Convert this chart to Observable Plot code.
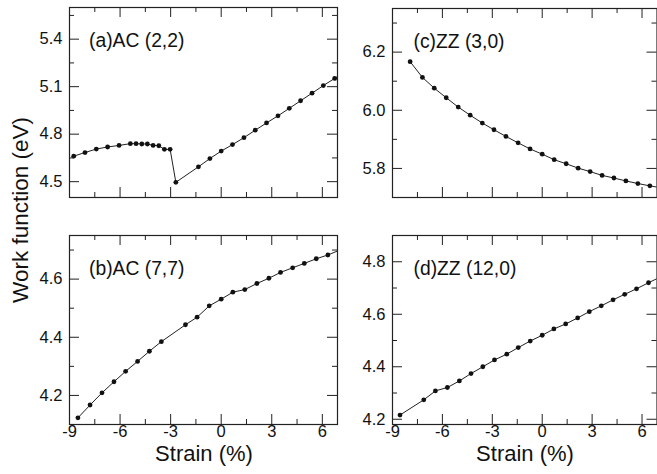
<!DOCTYPE html>
<html><head><meta charset="utf-8">
<script src="https://cdn.jsdelivr.net/npm/d3@7"></script>
<script src="https://cdn.jsdelivr.net/npm/@observablehq/plot@0.6"></script>
<style>
html,body{margin:0;padding:0;background:#fff;overflow:hidden}
#wrap{position:relative;width:657px;height:474px;font-family:"Liberation Sans",Arial,sans-serif;color:#111}
.panel{position:absolute}
.title{position:absolute;font-size:22px;line-height:12px;white-space:nowrap;transform:translate(-50%,-50%)}
.ytitle{font-size:22.5px;transform:translate(-50%,-50%) rotate(-90deg)}
</style></head><body><div id="wrap"></div>
<script>
// ---- data ----
const xMajor = [-9, -6, -3, 0, 3, 6];
const xMinor = [-7.5, -4.5, -1.5, 1.5, 4.5];
const xDomain = [-9, 6.9];
const panelLabels = ["(a)AC (2,2)", "(b)AC (7,7)", "(c)ZZ (3,0)", "(d)ZZ (12,0)"];
const xTitle = "Strain (%)";
const yTitle = "Work function (eV)";

const strainA = [-8.75,-8.08,-7.41,-6.74,-6.06,-5.39,-5.05,-4.71,-4.38,-4.04,-3.70,-3.37,-3.03,-2.69,-1.35,-0.67,0,0.67,1.35,2.02,2.69,3.37,4.04,4.71,5.39,6.06,6.73,7.40];
const wfA = [4.661,4.684,4.706,4.719,4.729,4.740,4.740,4.738,4.738,4.729,4.727,4.704,4.704,4.496,4.594,4.646,4.693,4.734,4.778,4.825,4.871,4.916,4.963,5.011,5.059,5.107,5.152,5.200];
const yDomainA = [4.4, 5.6];
const yMajorA = [4.5, 4.8, 5.1, 5.4];
const yMinorA = [4.65, 4.95, 5.25, 5.55];

const strainB = [-8.50,-7.78,-7.07,-6.36,-5.67,-4.96,-4.26,-3.55,-2.12,-1.43,-0.71,0,0.69,1.40,2.12,2.83,3.52,4.24,4.93,5.64,6.33,7.04];
const wfB = [4.123,4.167,4.209,4.247,4.283,4.317,4.352,4.385,4.443,4.469,4.508,4.531,4.555,4.564,4.585,4.603,4.623,4.639,4.654,4.670,4.683,4.700];
const yDomainB = [4.1, 4.75];
const yMajorB = [4.2, 4.4, 4.6];
const yMinorB = [4.3, 4.5, 4.7];

const strainC = [-7.94,-7.20,-6.49,-5.77,-5.05,-4.33,-3.60,-2.90,-2.18,-1.45,-0.73,0,0.72,1.44,2.16,2.88,3.60,4.31,5.03,5.75,6.47,7.19];
const wfC = [6.167,6.113,6.076,6.043,6.011,5.983,5.956,5.933,5.910,5.888,5.867,5.849,5.830,5.816,5.801,5.789,5.776,5.767,5.757,5.748,5.740,5.733];
const yDomainC = [5.7, 6.35];
const yMajorC = [5.8, 6.0, 6.2];
const yMinorC = [5.9, 6.1, 6.3];

const strainD = [-8.55,-7.12,-6.42,-5.70,-4.98,-4.28,-3.57,-2.87,-2.13,-1.44,-0.72,0,0.70,1.41,2.13,2.83,3.55,4.26,4.96,5.67,6.39,7.10];
const wfD = [4.216,4.274,4.308,4.321,4.346,4.374,4.400,4.426,4.448,4.473,4.498,4.520,4.544,4.563,4.586,4.610,4.632,4.655,4.676,4.697,4.720,4.742];
const yDomainD = [4.18, 4.9];
const yMajorD = [4.2, 4.4, 4.6, 4.8];
const yMinorD = [4.3, 4.5, 4.7];

// ---- drawing ----
const FONT = '"Liberation Sans", Arial, sans-serif';
const wrap = document.getElementById("wrap");
function panel(o) {
  const data = o.xs.map((x, i) => ({x, y: o.ys[i]}));
  const iw = o.width - o.ml - o.mr, ih = o.height - o.mt - o.mb;
  const stroke = "#222", major = 10, minor = 5;
  const svg = Plot.plot({
    width: o.width, height: o.height,
    marginLeft: o.ml, marginRight: o.mr, marginTop: o.mt, marginBottom: o.mb,
    x: {domain: xDomain, axis: null},
    y: {domain: o.yDomain, axis: null},
    style: {fontFamily: FONT, fontSize: "16.5px", color: "#111", background: "transparent", overflow: "visible"},
    marks: [
      Plot.line(data, {x: "x", y: "y", stroke: "#222", strokeWidth: 1, clip: true}),
      Plot.dot(data, {x: "x", y: "y", r: 2.4, fill: "#111", stroke: "none", clip: true}),
      Plot.tickX(xMajor, {x: d => d, insetTop: ih - major, stroke}),
      Plot.tickX(xMajor, {x: d => d, insetBottom: ih - major, stroke}),
      Plot.tickX(xMinor, {x: d => d, insetTop: ih - minor, stroke}),
      Plot.tickX(xMinor, {x: d => d, insetBottom: ih - minor, stroke}),
      Plot.tickY(o.yMajor, {y: d => d, insetRight: iw - major, stroke}),
      Plot.tickY(o.yMajor, {y: d => d, insetLeft: iw - major, stroke}),
      Plot.tickY(o.yMinor, {y: d => d, insetRight: iw - minor, stroke}),
      Plot.tickY(o.yMinor, {y: d => d, insetLeft: iw - minor, stroke}),
      Plot.axisY(o.yMajor, {tickSize: 0, tickPadding: 7, tickFormat: d3.format(".1f"), label: null, fontSize: 16.5}),
      o.showX ? Plot.axisX(xMajor, {tickSize: 0, tickPadding: 1, tickFormat: d => String(d), label: null, fontSize: 16.5}) : null,
      Plot.frame({stroke: "#222", strokeWidth: 1.2}),
      Plot.text([o.label], {text: d => d, frameAnchor: "top-left", dx: o.ldx, dy: 25.5, textAnchor: "start", lineAnchor: "top", fontSize: 19.3, fill: "#111"})
    ]
  });
  const div = document.createElement("div");
  div.className = "panel";
  div.style.left = o.left + "px";
  div.style.top = o.top + "px";
  div.appendChild(svg);
  wrap.appendChild(div);
}

panel({xs: strainA, ys: wfA, label: panelLabels[0], yDomain: yDomainA, yMajor: yMajorA, yMinor: yMinorA,
  left: 0, top: 0, width: 340, height: 200, ml: 69, mr: 3, mt: 7, mb: 3, showX: false, ldx: 19.5});
panel({xs: strainC, ys: wfC, label: panelLabels[2], yDomain: yDomainC, yMajor: yMajorC, yMinor: yMinorC,
  left: 340, top: 0, width: 317, height: 200, ml: 52, mr: 0.5, mt: 8, mb: 3, showX: false, ldx: 21});
panel({xs: strainB, ys: wfB, label: panelLabels[1], yDomain: yDomainB, yMajor: yMajorB, yMinor: yMinorB,
  left: 0, top: 228, width: 340, height: 246, ml: 69, mr: 3, mt: 7, mb: 50, showX: true, ldx: 19.5});
panel({xs: strainD, ys: wfD, label: panelLabels[3], yDomain: yDomainD, yMajor: yMajorD, yMinor: yMinorD,
  left: 340, top: 228, width: 317, height: 246, ml: 52, mr: 0.5, mt: 7, mb: 50, showX: true, ldx: 21});

function title(text, x, y, cls) {
  const d = document.createElement("div");
  d.className = "title" + (cls ? " " + cls : "");
  d.textContent = text;
  d.style.left = x + "px";
  d.style.top = y + "px";
  wrap.appendChild(d);
}
title(yTitle, 21, 210, "ytitle");
title(xTitle, 204, 454);
title(xTitle, 525, 454);
</script></body></html>
